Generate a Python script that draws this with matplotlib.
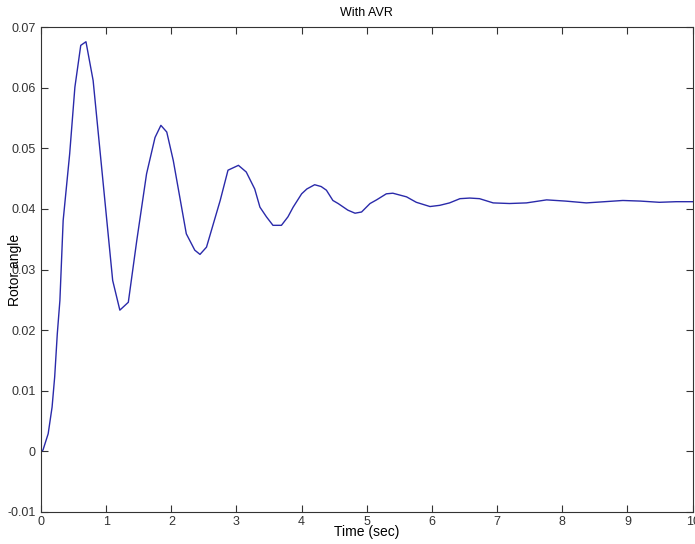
import matplotlib
matplotlib.use('Agg')
import matplotlib.pyplot as plt

# DATA
t = [0.00, 0.03, 0.11, 0.17, 0.21, 0.25, 0.29, 0.34, 0.44, 0.52, 0.61, 0.69,
     0.80, 0.90, 1.01, 1.10, 1.21, 1.34, 1.47, 1.62, 1.75, 1.84, 1.93, 2.03,
     2.23, 2.36, 2.44, 2.54, 2.75, 2.87, 3.03, 3.15, 3.28, 3.36, 3.46, 3.56,
     3.69, 3.79, 3.87, 4.00, 4.08, 4.20, 4.30, 4.38, 4.48, 4.56, 4.71, 4.82,
     4.92, 5.05, 5.15, 5.30, 5.40, 5.61, 5.76, 5.97, 6.12, 6.27, 6.43, 6.58,
     6.73, 6.94, 7.19, 7.45, 7.76, 8.05, 8.37, 8.65, 8.93, 9.20, 9.49, 9.75,
     10.00]
rotor = [0.0000, 0.0002, 0.0029, 0.0073, 0.0123, 0.0194, 0.0249, 0.0381,
         0.0491, 0.0601, 0.0670, 0.0676, 0.0612, 0.0502, 0.0381, 0.0282,
         0.0233, 0.0246, 0.0348, 0.0458, 0.0518, 0.0538, 0.0527, 0.0480,
         0.0359, 0.0332, 0.0325, 0.0337, 0.0414, 0.0464, 0.0472, 0.0461,
         0.0433, 0.0403, 0.0387, 0.0373, 0.0373, 0.0387, 0.0403, 0.0425,
         0.0433, 0.0440, 0.0437, 0.0431, 0.0414, 0.0409, 0.0398, 0.0393,
         0.0395, 0.0409, 0.0415, 0.0425, 0.0426, 0.0420, 0.0411, 0.0404,
         0.0406, 0.0410, 0.0417, 0.0418, 0.0417, 0.0410, 0.0409, 0.0410,
         0.0415, 0.0413, 0.0410, 0.0412, 0.0414, 0.0413, 0.0411, 0.0412,
         0.0412]

xticks = [0, 1, 2, 3, 4, 5, 6, 7, 8, 9, 10]
yticks = [-0.01, 0, 0.01, 0.02, 0.03, 0.04, 0.05, 0.06, 0.07]
ylabels = ['-0.01', '0', '0.01', '0.02', '0.03', '0.04', '0.05', '0.06', '0.07']

plt.rcParams['font.family'] = ['Liberation Sans', 'DejaVu Sans']

fig = plt.figure(figsize=(6.95, 5.44), dpi=100)
ax = fig.add_axes([0.059, 0.059, 0.9375, 0.891])

ax.plot(t, rotor, '-', color='#2a2aaa', linewidth=1.0)

ax.set_xlim(0, 10)
ax.set_ylim(-0.01, 0.07)
ax.set_xticks(xticks)
ax.set_yticks(yticks)
ax.set_yticklabels(ylabels)
ax.tick_params(direction='in', length=5, width=0.8, top=True, right=True,
               labelsize=9, colors='#333333', pad=3)
ax.tick_params(axis='y', pad=4)
for s in ax.spines.values():
    s.set_linewidth(0.8)
    s.set_color('#333333')

ax.set_title('With AVR', fontsize=9, pad=8)
ax.set_xlabel('Time (sec)', fontsize=10)
ax.set_ylabel('Rotor angle', fontsize=10)
ax.xaxis.set_label_coords(0.5, -0.042)
ax.xaxis.label.set_va('center')
ax.yaxis.set_label_coords(-0.04, 0.5)
ax.yaxis.label.set_va('center')

fig.savefig('out.png', dpi=100)
